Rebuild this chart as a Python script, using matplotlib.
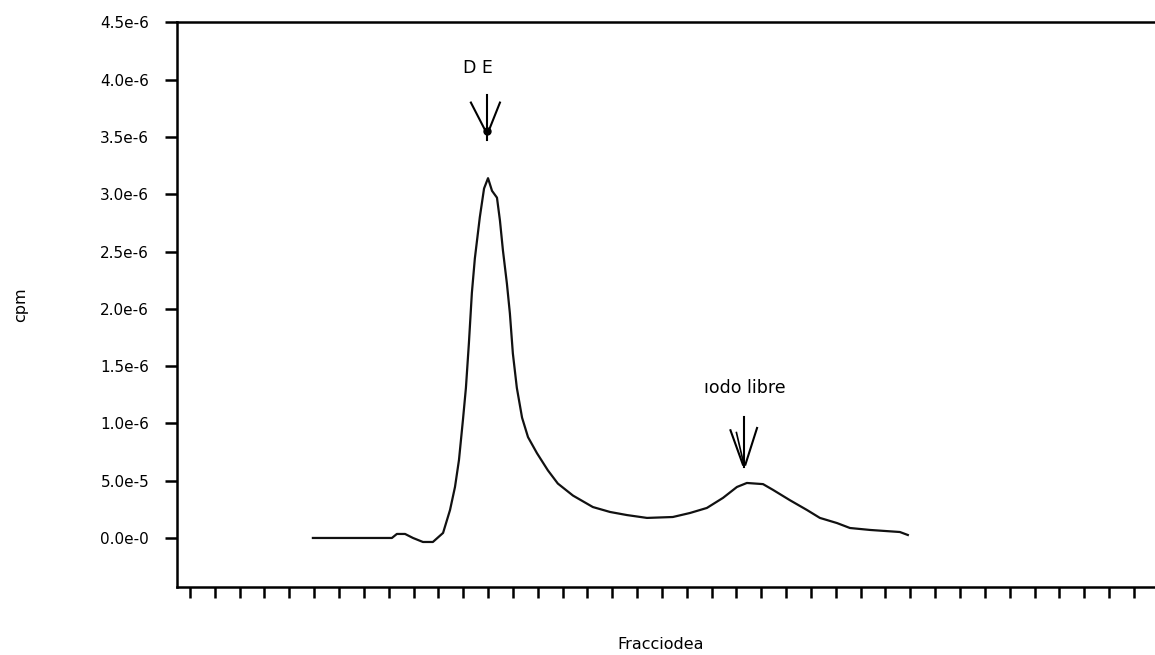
import numpy as np
import matplotlib
matplotlib.use('Agg')
from matplotlib import pyplot as plt

# fraction number (axis units) and cpm (x 1e-6)
fraccion = [4.95, 8.13, 8.33, 8.66, 8.98, 9.38, 9.78, 10.19, 10.47, 10.67,
            10.83, 10.99, 11.11, 11.23, 11.35, 11.47, 11.67, 11.84, 12.00, 12.16,
            12.36, 12.48, 12.60, 12.76, 12.88, 13.00, 13.16, 13.37, 13.61, 13.97,
            14.41, 14.81, 15.42, 16.22, 16.91, 17.59, 18.40, 19.44, 20.13, 20.81,
            21.46, 22.02, 22.42, 23.07, 23.47, 24.15, 24.84, 25.36, 26.05, 26.57,
            27.38, 28.58, 28.90]
cpm_e6 = [0.0, 0.0, 0.035, 0.035, 0.0, -0.035, -0.035, 0.044, 0.244, 0.445,
          0.68, 1.03, 1.31, 1.70, 2.14, 2.44, 2.80, 3.05, 3.14, 3.03,
          2.97, 2.77, 2.51, 2.22, 1.96, 1.61, 1.31, 1.05, 0.88, 0.74,
          0.59, 0.475, 0.37, 0.27, 0.227, 0.20, 0.175, 0.183, 0.218, 0.262,
          0.35, 0.445, 0.48, 0.47, 0.42, 0.33, 0.244, 0.175, 0.13, 0.087,
          0.07, 0.052, 0.026]

ytick_vals = [0.0, 0.5, 1.0, 1.5, 2.0, 2.5, 3.0, 3.5, 4.0, 4.5]
ytick_labels = ['0.0e-0', '5.0e-5', '1.0e-6', '1.5e-6', '2.0e-6',
                '2.5e-6', '3.0e-6', '3.5e-6', '4.0e-6', '4.5e-6']
n_xticks = 39

x = np.array(fraccion)
y = np.array(cpm_e6) * 1e-6

fig = plt.figure(figsize=(11.55, 6.55), dpi=100)
ax = fig.add_axes([0.1532, 0.1038, 0.8468, 0.8626])

ax.plot(x, y, color='#111111', lw=1.6)

ax.set_xlim(-0.523, 38.85)
ax.set_ylim(-0.428e-6, 4.503e-6)

ax.set_xticks(np.arange(n_xticks))
ax.set_xticklabels([])
ax.set_yticks(np.array(ytick_vals) * 1e-6)
ax.set_yticklabels(ytick_labels, fontsize=11)
ax.tick_params(axis='y', direction='out', length=9, width=1.8, pad=11)
ax.tick_params(axis='x', direction='out', length=8, width=1.8)

for s in ['left', 'bottom', 'top']:
    ax.spines[s].set_linewidth(1.8)
ax.spines['right'].set_visible(False)

ax.set_ylabel('cpm', fontsize=11.5)
ax.yaxis.set_label_coords(-0.152, 0.5)
ax.set_xlabel('Fracciodea', fontsize=11.5)
ax.xaxis.set_label_coords(0.495, -0.088)

# DE arrow
k = 1e-6
ax.text(11.6, 4.10 * k, 'D E', ha='center', va='center', fontsize=12.5)
ax.plot([11.96, 11.96], [3.87 * k, 3.47 * k], color='black', lw=1.5)
ax.plot([11.31, 11.88], [3.80 * k, 3.56 * k], color='black', lw=1.5)
ax.plot([12.48, 12.04], [3.80 * k, 3.56 * k], color='black', lw=1.5)
ax.plot([11.94], [3.55 * k], 'o', color='black', ms=5)

# iodo libre arrow
ax.text(22.34, 1.31 * k, 'ıodo libre', ha='center', va='center', fontsize=12.5)
ax.plot([22.3, 22.3], [1.06 * k, 0.62 * k], color='black', lw=1.5)
ax.plot([21.76, 22.26], [0.94 * k, 0.64 * k], color='black', lw=1.5)
ax.plot([22.0, 22.28], [0.92 * k, 0.66 * k], color='black', lw=1.2)
ax.plot([22.83, 22.36], [0.96 * k, 0.64 * k], color='black', lw=1.5)

fig.savefig('out.png', dpi=100)
